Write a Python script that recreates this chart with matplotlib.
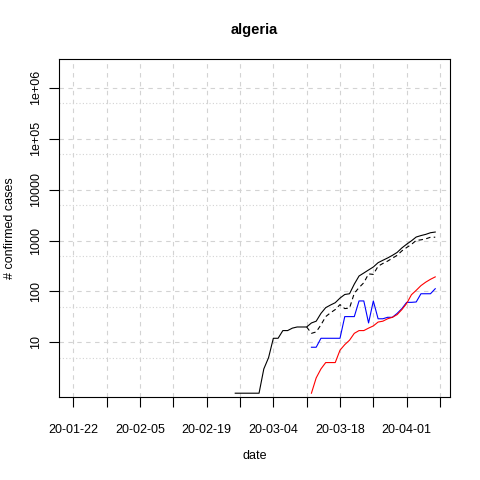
import numpy as np
import matplotlib
matplotlib.use("Agg")
import matplotlib.pyplot as plt
import matplotlib.dates as mdates

# values (algeria, JHU style series)
conf_dates = np.arange(np.datetime64("2020-02-25"), np.datetime64("2020-04-08"))
confirmed = [1, 1, 1, 1, 1, 1, 3, 5, 12, 12, 17, 17, 19, 20, 20, 20, 24, 26, 37, 48,
             54, 60, 74, 87, 90, 139, 201, 230, 264, 302, 367, 409, 454, 511, 584,
             716, 847, 986, 1171, 1251, 1320, 1423, 1468]

active_dates = np.arange(np.datetime64("2020-03-11"), np.datetime64("2020-04-08"))
active = [20, 15, 16, 22, 32, 38, 44, 55, 46, 47, 92, 119, 148, 221, 216, 313, 354,
          394, 449, 512, 626, 728, 839, 1004, 1031, 1078, 1160, 1162]

other_dates = np.arange(np.datetime64("2020-03-12"), np.datetime64("2020-04-08"))
recovered = [8, 8, 12, 12, 12, 12, 12, 32, 32, 32, 65, 65, 24, 65, 29, 29, 31, 31,
             37, 46, 61, 61, 62, 90, 90, 90, 113]
deaths = [1, 2, 3, 4, 4, 4, 7, 9, 11, 15, 17, 17, 19, 21, 25, 26, 29, 31, 35, 44,
          58, 86, 105, 130, 152, 173, 193]

tick_dates = np.arange(np.datetime64("2020-01-22"), np.datetime64("2020-04-09"), 7)
y_ticks = [10, 100, 1000, 10000, 1e5, 1e6]
y_labels = ["10", "100", "1000", "10000", "1e+05", "1e+06"]

plt.rcParams["font.family"] = ["Liberation Sans", "DejaVu Sans"]
fig = plt.figure(figsize=(4.8, 4.8), dpi=100)
ax = fig.add_axes([0.123, 0.1735, 0.8145, 0.7035])


def dn(d):
    return mdates.date2num(d.astype("datetime64[D]").astype(object))


xt = dn(tick_dates)
# grid
for x in xt:
    ax.axvline(x, color="#d3d3d3", ls=(0, (4, 4)), lw=0.8, zorder=0)
for k in range(1, 7):
    ax.axhline(10.0 ** k, color="#d3d3d3", ls=(0, (4, 4)), lw=0.8, zorder=0)
for k in range(0, 6):
    ax.axhline(5 * 10.0 ** k, color="#d3d3d3", ls=(0, (1, 2)), lw=0.8, zorder=0)

ax.plot(dn(conf_dates), confirmed, color="black", lw=0.8)
ax.plot(dn(active_dates), active, color="black", lw=0.8, ls=(0, (4, 3)))
ax.plot(dn(other_dates), recovered, color="blue", lw=0.8)
ax.plot(dn(other_dates), deaths, color="red", lw=0.8)

ax.set_yscale("log")
ax.set_ylim(0.853, 3.68e6)
ax.set_xlim(xt[0] - 3.0, xt[0] + 79.1)
ax.set_yticks(y_ticks)
ax.set_yticklabels(y_labels, rotation=90, va="center")
ax.yaxis.set_minor_locator(matplotlib.ticker.NullLocator())
ax.set_xticks(xt)
ax.set_xticklabels([d.item().strftime("%y-%m-%d") if i % 2 == 0 else ""
                    for i, d in enumerate(tick_dates)])
ax.tick_params(axis="both", length=7, width=0.8, labelsize=9)
ax.tick_params(axis="x", pad=12.5)
ax.tick_params(axis="y", pad=5)

for s in ax.spines.values():
    s.set_linewidth(0.8)

ax.set_xlabel("date", fontsize=9)
ax.set_ylabel("# confirmed cases", fontsize=9)
ax.xaxis.set_label_coords(0.5, -0.1756)
ax.yaxis.set_label_coords(-0.125, 0.5)
for lab in (ax.xaxis.label, ax.yaxis.label):
    lab.set_verticalalignment("center")
fig.text(0.53, 1 - 30 / 480, "algeria", fontsize=10.5, fontweight="bold",
         ha="center", va="center")

fig.savefig("out.png", dpi=100)
